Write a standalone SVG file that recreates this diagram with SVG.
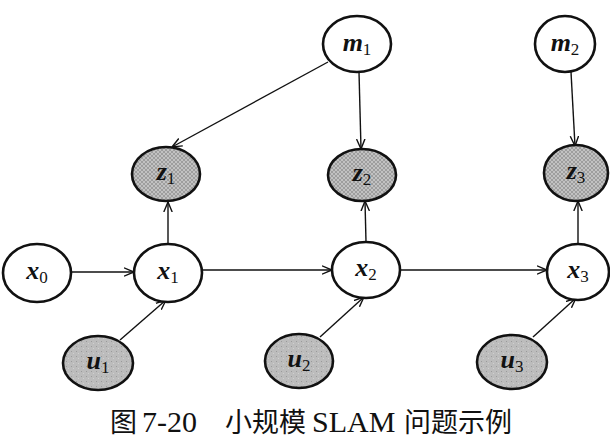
<svg xmlns="http://www.w3.org/2000/svg" width="610" height="439" viewBox="0 0 610 439">
  <style>
    .node { stroke: #111; stroke-width: 2.6; }
    .open { fill: #fff; }
    .zfill { fill: url(#hatch); }
    .ufill { fill: url(#stipple); }
    .lbl { font-family: "Liberation Serif", "DejaVu Serif", serif; font-size: 26px; font-style: italic; font-weight: bold; fill: #111; text-anchor: middle; }
    .sub { font-size: 17px; font-style: normal; font-weight: normal; }
    .edge { stroke: #111; stroke-width: 1.4; fill: none; marker-end: url(#arr); }
    .cap { font-family: "Liberation Serif", "Noto Sans CJK SC", serif; font-size: 27px; fill: #111; }
    .lat { font-size: 30px; }
  </style>
  <defs>
    <marker id="arr" markerUnits="userSpaceOnUse" viewBox="0 0 10 10" refX="10" refY="5" markerWidth="10" markerHeight="10" orient="auto">
      <path d="M0,0.8 L10,5 L0,9.2" fill="none" stroke="#111" stroke-width="1.4"/>
    </marker>
    <pattern id="hatch" patternUnits="userSpaceOnUse" width="4" height="4">
      <rect width="4" height="4" fill="#c2c2c2"/>
      <path d="M0,4 L4,0 M0,0 L4,4" stroke="#8e8e8e" stroke-width="0.7"/>
    </pattern>
    <pattern id="stipple" patternUnits="userSpaceOnUse" width="5" height="5">
      <rect width="5" height="5" fill="#bcbcbc"/>
      <rect x="1" y="1" width="1" height="1" fill="#9a9a9a"/>
      <rect x="3" y="3" width="1" height="1" fill="#d0d0d0"/>
    </pattern>
  </defs>

  <g id="connectors">
    <line class="edge" x1="328" y1="62" x2="172" y2="147"/>
    <line class="edge" x1="359" y1="72" x2="361" y2="149"/>
    <line class="edge" x1="571" y1="72" x2="575" y2="146"/>
    <line class="edge" x1="168" y1="244" x2="168" y2="202"/>
    <line class="edge" x1="366" y1="242" x2="365" y2="201"/>
    <line class="edge" x1="578" y1="244" x2="578" y2="201"/>
    <line class="edge" x1="71" y1="272" x2="134" y2="272"/>
    <line class="edge" x1="202" y1="270" x2="332" y2="270"/>
    <line class="edge" x1="400" y1="270" x2="547" y2="270"/>
    <line class="edge" x1="120" y1="340" x2="166" y2="300"/>
    <line class="edge" x1="320" y1="337" x2="364" y2="297"/>
    <line class="edge" x1="533" y1="337" x2="576" y2="298"/>
  </g>

  <g id="m1"><ellipse class="node open" cx="357" cy="44" rx="34" ry="28"/><text class="lbl" x="357" y="51">m<tspan class="sub" dy="4">1</tspan></text></g>
  <g id="m2"><ellipse class="node open" cx="565" cy="44" rx="30" ry="28"/><text class="lbl" x="565" y="51">m<tspan class="sub" dy="4">2</tspan></text></g>

  <g id="z1"><ellipse class="node zfill" cx="166" cy="174" rx="34" ry="27"/><text class="lbl" x="166" y="180">z<tspan class="sub" dy="4">1</tspan></text></g>
  <g id="z2"><ellipse class="node zfill" cx="362" cy="175" rx="34" ry="26"/><text class="lbl" x="362" y="181">z<tspan class="sub" dy="4">2</tspan></text></g>
  <g id="z3"><ellipse class="node zfill" cx="576" cy="173" rx="32" ry="28"/><text class="lbl" x="576" y="179">z<tspan class="sub" dy="4">3</tspan></text></g>

  <g id="x0"><ellipse class="node open" cx="37" cy="273" rx="34" ry="29"/><text class="lbl" x="37" y="279">x<tspan class="sub" dy="4">0</tspan></text></g>
  <g id="x1"><ellipse class="node open" cx="168" cy="273" rx="34" ry="29"/><text class="lbl" x="168" y="279">x<tspan class="sub" dy="4">1</tspan></text></g>
  <g id="x2"><ellipse class="node open" cx="366" cy="270" rx="34" ry="28"/><text class="lbl" x="366" y="276">x<tspan class="sub" dy="4">2</tspan></text></g>
  <g id="x3"><ellipse class="node open" cx="578" cy="272" rx="31" ry="28"/><text class="lbl" x="578" y="278">x<tspan class="sub" dy="4">3</tspan></text></g>

  <g id="u1"><ellipse class="node ufill" cx="98" cy="363" rx="35" ry="27"/><text class="lbl" x="98" y="369">u<tspan class="sub" dy="4">1</tspan></text></g>
  <g id="u2"><ellipse class="node ufill" cx="299" cy="361" rx="34" ry="27"/><text class="lbl" x="299" y="367">u<tspan class="sub" dy="4">2</tspan></text></g>
  <g id="u3"><ellipse class="node ufill" cx="512" cy="362" rx="35" ry="27"/><text class="lbl" x="512" y="368">u<tspan class="sub" dy="4">3</tspan></text></g>

  <text class="cap" y="432"><tspan x="110">图</tspan><tspan class="lat" x="142">7-20</tspan><tspan x="225">小规模</tspan><tspan class="lat" x="312">SLAM</tspan><tspan x="404">问题示例</tspan></text>
</svg>
